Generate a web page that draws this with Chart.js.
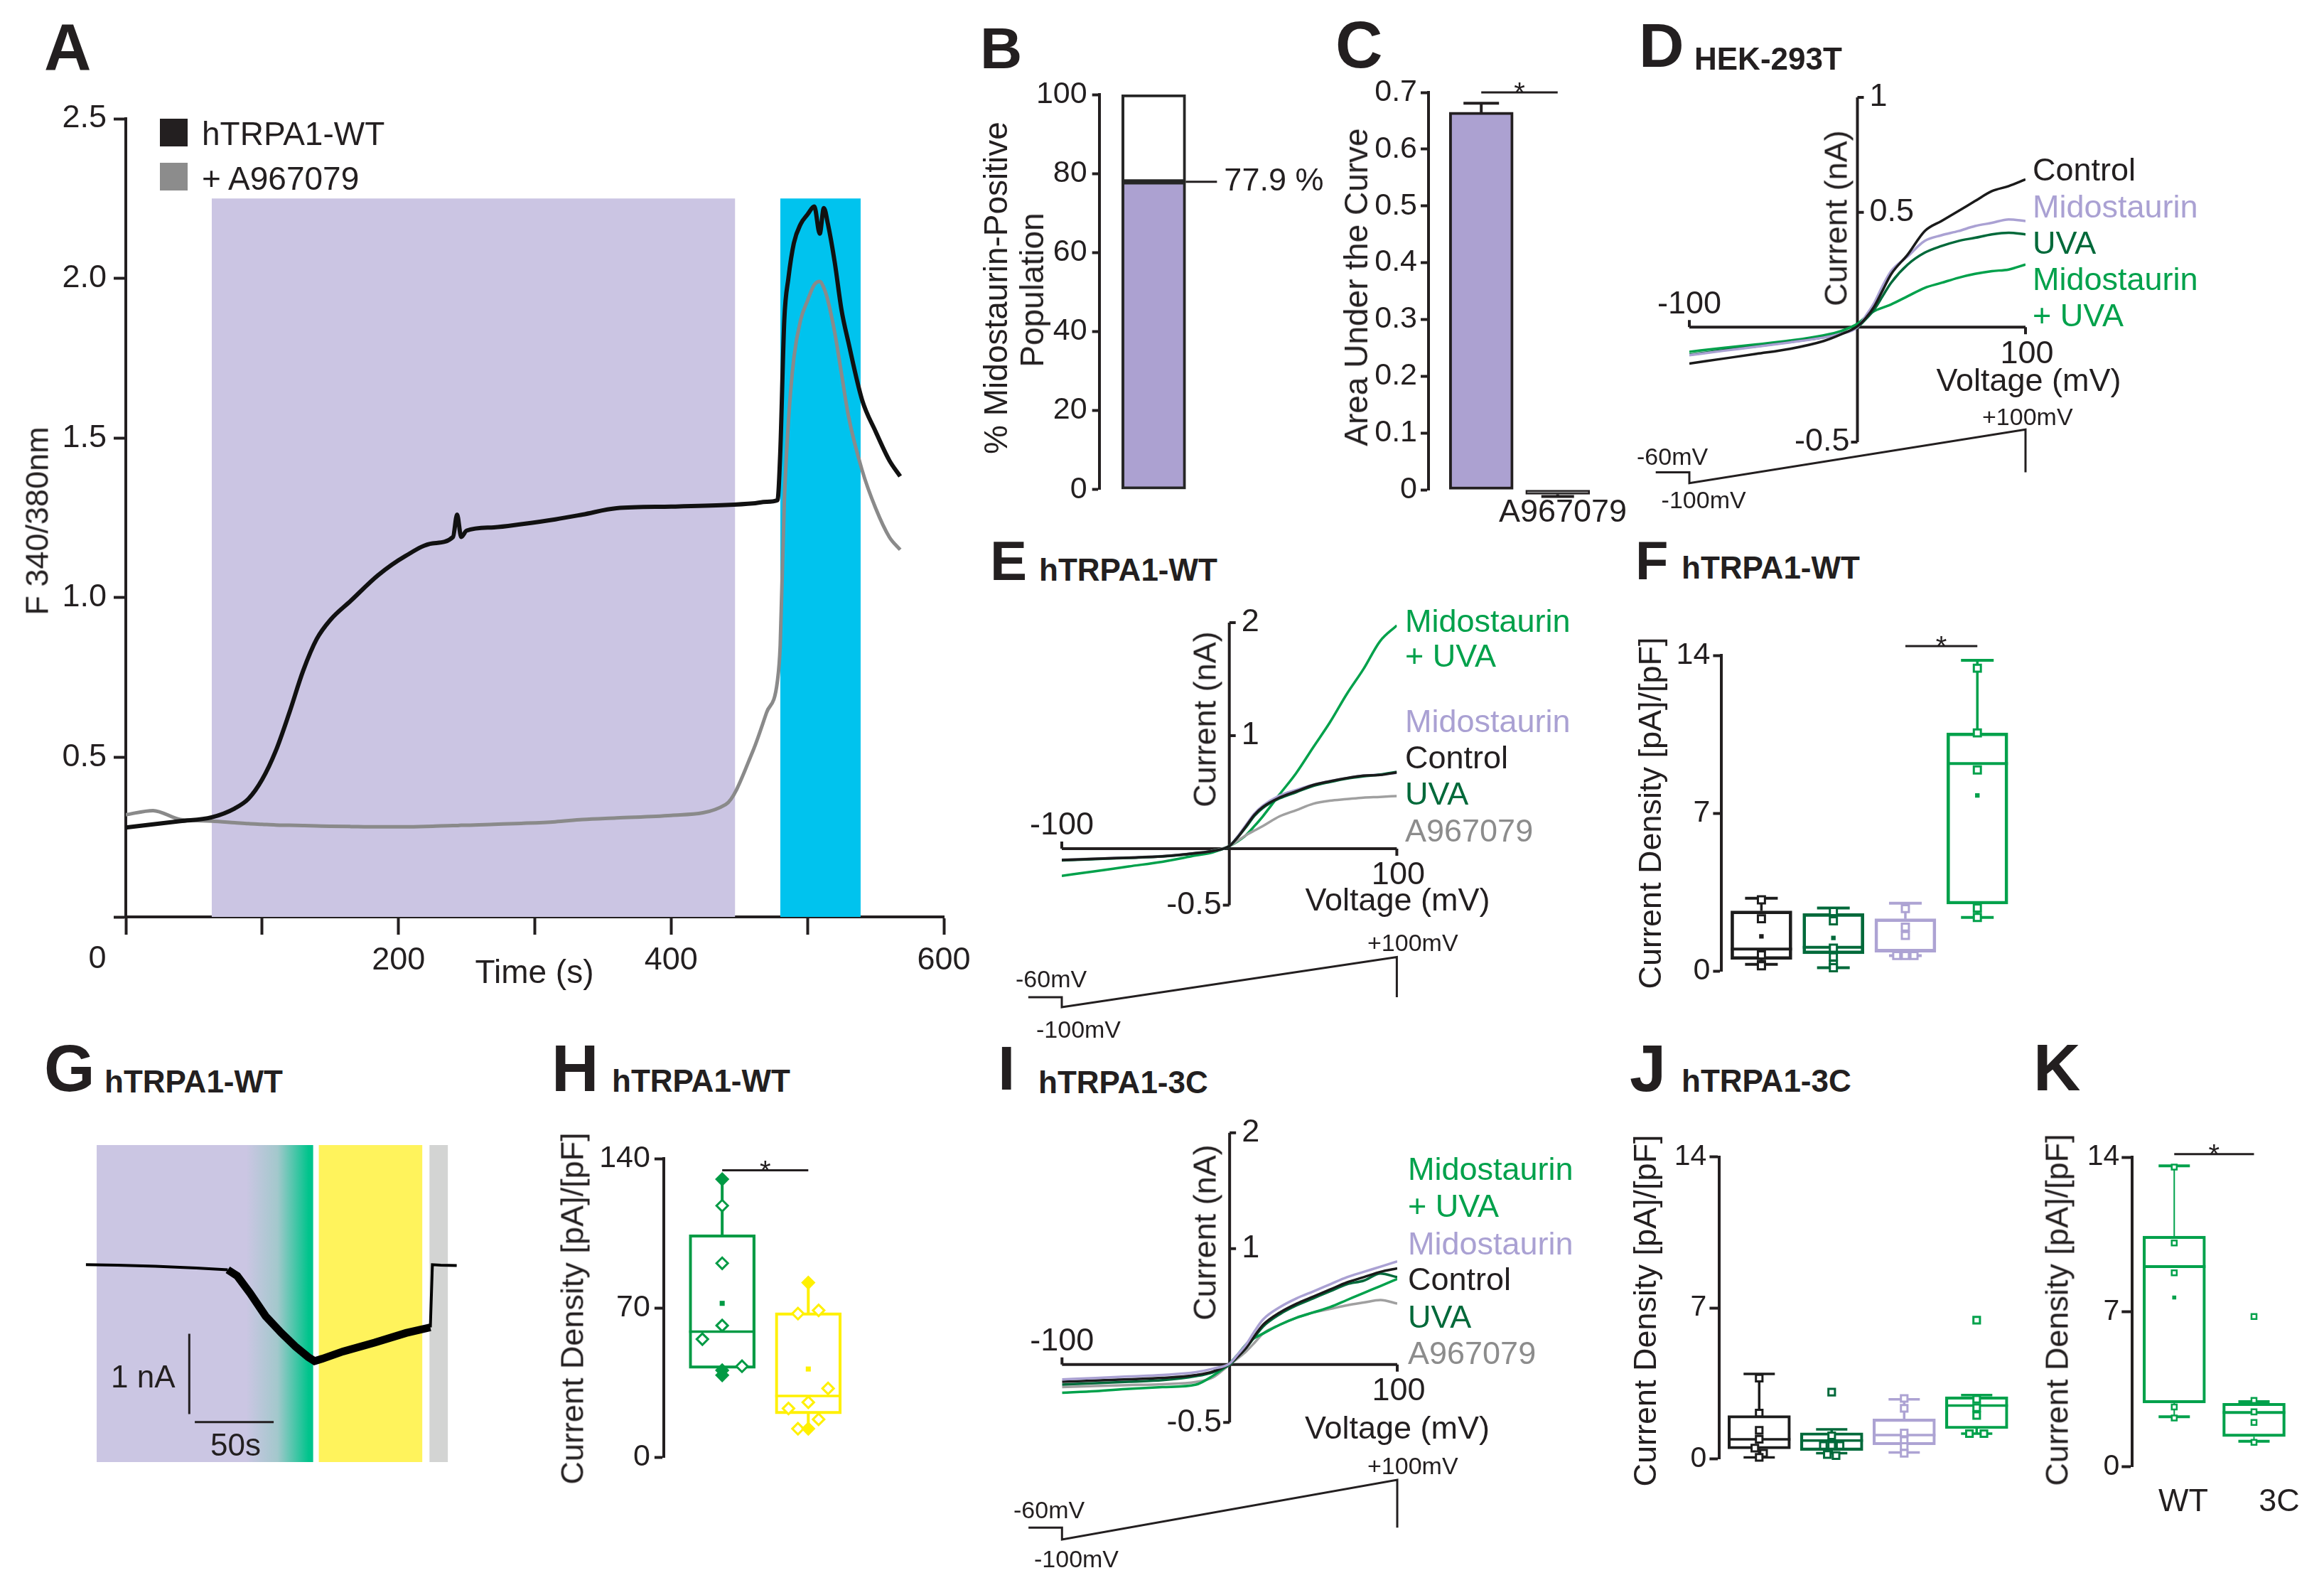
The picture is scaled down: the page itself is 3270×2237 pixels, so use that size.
<!DOCTYPE html>
<html>
<head>
<meta charset="utf-8">
<script src="https://cdn.jsdelivr.net/npm/chart.js@4.4.1/dist/chart.umd.min.js"></script>
<style>
html, body { margin: 0; padding: 0; background: #fff; }
#page { position: relative; width: 3270px; height: 2237px; overflow: hidden; background: #fff;
        font-family: "Liberation Sans", Arial, Helvetica, sans-serif; color: #231f20; }
.cv { position: absolute; }
.t { position: absolute; white-space: nowrap; line-height: 1; }
.sw { position: absolute; }
</style>
</head>
<body>
<div id="page"></div>
<script>
// ---------------- data ----------------
// A: calcium imaging, F340/380 over time
const aTime = [0,20,40,63,80,90,100,110,120,130,140,150,165,185,205,225,240,243,246,250,270,290,315,335,360,400,440,460,470,478,480,483,486,490,495,500,505,509,512,515,520,525,530,540,550,560,568];
const aWT = [0.28,0.29,0.30,0.312,0.34,0.37,0.43,0.52,0.64,0.77,0.87,0.93,0.99,1.07,1.13,1.17,1.19,1.26,1.19,1.21,1.22,1.23,1.245,1.26,1.28,1.285,1.29,1.295,1.3,1.305,1.45,1.87,2.0,2.11,2.17,2.2,2.225,2.14,2.22,2.17,2.05,1.9,1.8,1.62,1.52,1.43,1.38];
const aBlocked = [0.32,0.333,0.305,0.30,0.295,0.292,0.29,0.288,0.287,0.286,0.285,0.284,0.283,0.282,0.282,0.284,0.286,0.286,0.287,0.287,0.29,0.293,0.298,0.305,0.31,0.318,0.352,0.52,0.64,0.74,0.85,1.3,1.55,1.75,1.87,1.93,1.98,1.99,1.97,1.93,1.83,1.7,1.57,1.40,1.28,1.19,1.15];
const aMidoWindow = [63, 447];
const aUvaWindow = [480, 539];
const aShadeTop = 2.25;
const aTickLabels = [200, 400, 600];

// B: % midostaurin-positive
const bPositive = [77.9];
const bNegative = [22.1];

// C: area under the curve
const cGroups = ['Midostaurin', 'A967079'];
const cMean = [0.665, -0.008];
const cSem = [0.016, 0.004];

// I-V ramps (mV -> nA)
const ivVolt = [-100,-80,-60,-40,-20,-10,0,5,10,15,20,30,40,50,60,70,80,90,100];
const dControl = [-0.158,-0.137,-0.116,-0.094,-0.06,-0.032,0.004,0.04,0.09,0.16,0.23,0.317,0.418,0.462,0.505,0.549,0.592,0.614,0.643];
const dMido    = [-0.122,-0.103,-0.085,-0.066,-0.045,-0.029,0.0,0.05,0.106,0.18,0.244,0.309,0.375,0.40,0.418,0.44,0.454,0.469,0.462];
const dUva     = [-0.12,-0.10,-0.083,-0.064,-0.044,-0.028,0.0,0.035,0.077,0.135,0.193,0.273,0.324,0.353,0.375,0.389,0.404,0.411,0.404];
const dMidoUva = [-0.107,-0.09,-0.075,-0.058,-0.035,-0.017,0.015,0.045,0.07,0.085,0.099,0.135,0.171,0.193,0.215,0.232,0.244,0.251,0.273];

const eMidoUva = [-0.24,-0.2,-0.157,-0.116,-0.06,-0.033,0.023,0.065,0.12,0.2,0.286,0.48,0.67,0.895,1.116,1.365,1.587,1.836,1.975];
const eMido    = [-0.101,-0.09,-0.08,-0.068,-0.04,-0.02,0.023,0.11,0.21,0.31,0.38,0.47,0.52,0.565,0.598,0.625,0.646,0.655,0.672];
const eControl = [-0.101,-0.09,-0.08,-0.068,-0.04,-0.02,0.023,0.1,0.2,0.3,0.369,0.452,0.508,0.563,0.596,0.624,0.646,0.652,0.674];
const eUva     = [-0.103,-0.092,-0.081,-0.069,-0.041,-0.021,0.022,0.1,0.19,0.29,0.36,0.445,0.5,0.555,0.59,0.62,0.64,0.655,0.68];
const eBlocked = [-0.098,-0.088,-0.078,-0.066,-0.038,-0.018,0.023,0.07,0.12,0.16,0.2,0.286,0.341,0.397,0.424,0.438,0.452,0.458,0.466];

const iMidoUva = [-0.243,-0.23,-0.21,-0.195,-0.173,-0.097,0.009,0.09,0.177,0.23,0.268,0.344,0.405,0.45,0.496,0.557,0.618,0.678,0.739];
const iMido    = [-0.128,-0.116,-0.103,-0.09,-0.066,-0.036,0.009,0.09,0.177,0.29,0.39,0.496,0.572,0.632,0.693,0.754,0.8,0.845,0.891];
const iControl = [-0.148,-0.138,-0.127,-0.115,-0.09,-0.06,0.01,0.07,0.146,0.25,0.344,0.45,0.526,0.587,0.648,0.709,0.754,0.8,0.83];
const iUva     = [-0.173,-0.16,-0.148,-0.135,-0.1,-0.067,0.0,0.07,0.146,0.24,0.329,0.435,0.511,0.572,0.633,0.693,0.724,0.785,0.754];
const iBlocked = [-0.194,-0.185,-0.177,-0.17,-0.15,-0.112,0.0,0.055,0.116,0.19,0.268,0.344,0.405,0.45,0.48,0.511,0.535,0.557,0.526];

// voltage protocol (mV)
const protoX  = [-120,-100,-100,100,100,120];
const protoMv = [-60,-60,-100,100,-60,-60];

// F: hTRPA1-WT current density (Control, UVA, Midostaurin, Midostaurin+UVA)
const fMin  = [0.30, 0.15, 0.69, 2.38];
const fQ1   = [0.52, 0.77, 0.85, 2.97];
const fMed  = [0.98, 1.06, 0.89, 9.20];
const fQ3   = [2.67, 2.55, 2.32, 10.56];
const fMax  = [3.23, 2.80, 3.01, 13.78];
const fMean = [1.54, 1.47, null, 7.79];
const fPts  = [[3.16, 2.32, 0.72, 0.30, 0.24], [2.64, 2.23, 1.02, 0.63, 0.30, 0.15], [2.77, 1.95, 1.58, 0.69, 0.69, 0.69], [13.43, 10.56, 8.92, 2.80, 2.38]];
const fJit  = [[0, 0, 0, 0, 0], [0, 0, 0, 0, 0, 0], [0, 0, 0, -0.12, 0, 0.12], [0, 0, 0, 0, 0]];

// G: whole-cell trace (s, nA)
const gTime = [0,20,44,70,90,96,104,114,124,133,141,145,150,163,183,203,218.4,219.7,225,235.2];
const gCur  = [0,-0.005,-0.018,-0.04,-0.063,-0.14,-0.35,-0.64,-0.85,-1.02,-1.15,-1.2,-1.17,-1.08,-0.97,-0.85,-0.78,0,-0.005,-0.01];
const gMidoWindow = [6.9, 144.2];
const gFadeWindow = [101.7, 141.3];
const gYellowWindow = [147.6, 213.4];
const gGrayWindow = [217.8, 229.6];
const gNoisyWindow = [90, 218.4];

// H: Midostaurin+UVA vs yellow
const hMin  = [38.4, 13.0];
const hQ1   = [41.6, 20.3];
const hMed  = [58.8, 28.7];
const hQ3   = [104.3, 67.7];
const hMax  = [130.3, 81.8];
const hMean = [72.1, 41.3];
const hPts  = [[130.3, 117.9, 90.9, 61.7, 55.3, 42.6, 40.7, 38.4], [81.8, 68.8, 67.3, 32.2, 25.7, 22.8, 17.7, 13.3, 13.3]];
const hJit  = [[0, 0, 0, 0, -0.23, 0.23, 0, 0], [0, 0.12, -0.12, 0.23, 0, -0.23, 0.12, -0.12, 0]];
const hFull = [[1, 0, 0, 0, 0, 0, 1, 1], [1, 0, 0, 0, 0, 0, 0, 0, 1]];

// J: hTRPA1-3C
const jMin = [0.07, 0.26, 0.30, 1.17];
const jQ1  = [0.46, 0.39, 0.65, 1.40];
const jMed = [0.91, 0.85, 1.10, 2.47];
const jQ3  = [2.01, 1.21, 1.85, 2.88];
const jMax = [3.94, 1.37, 2.76, 2.96];
const jPts = [[3.74, 2.12, 1.32, 0.91, 0.50, 0.26, 0.07], [3.09, 1.07, 0.62, 0.62, 0.62, 0.20, 0.15], [2.80, 2.34, 1.20, 0.85, 0.57, 0.26], [6.43, 2.76, 2.37, 2.01, 1.17, 1.17]];
const jJit = [[0, 0, 0, 0, -0.06, 0.06, 0], [0, 0, -0.115, 0, 0.115, -0.06, 0.06], [0, 0, 0, 0, 0, 0], [0, 0, 0, 0, -0.1, 0.1]];

// K: WT vs 3C
const kLabels = ['WT', '3C'];
const kMin = [2.26, 1.15];
const kQ1  = [2.88, 1.36];
const kMed = [9.05, 2.45];
const kQ3  = [10.43, 2.87];
const kMax = [13.61, 2.94];
const kMean = [7.65, null];
const kPts = [[13.55, 10.12, 8.77, 2.70, 2.20], [6.79, 3.00, 2.48, 2.00, 1.10]];

// ---------------- helpers ----------------
const INK = '#231f20';
const FONT = '"Liberation Sans", Arial, Helvetica, sans-serif';
const LAV = '#aaa1d3', DKG = '#00693a', GRN = '#00a14b', GRY = '#8c8c8c';

Chart.defaults.font.family = FONT;
Chart.defaults.font.size = 43;
Chart.defaults.color = INK;
Chart.defaults.animation = false;
Chart.defaults.maintainAspectRatio = false;
Chart.defaults.plugins.legend.display = false;
Chart.defaults.plugins.tooltip.enabled = false;
Chart.defaults.events = [];

const page = document.getElementById('page');

function txt(s, x, y, size, o = {}) {
  const d = document.createElement('div');
  d.className = 't';
  d.textContent = s;
  d.style.fontSize = size + 'px';
  if (o.bold) d.style.fontWeight = 'bold';
  if (o.color) d.style.color = o.color;
  d.style.left = x + 'px';
  d.style.top = y + 'px';
  const ax = o.rot || o.align === 'c' ? '-50%' : o.align === 'r' ? '-100%' : '0';
  d.style.transform = 'translate(' + ax + ',-50%)' + (o.rot ? ' rotate(-90deg)' : '');
  page.appendChild(d);
}

function swatch(x, y, w, h, color) {
  const d = document.createElement('div');
  d.className = 'sw';
  d.style.cssText = `left:${x}px;top:${y}px;width:${w}px;height:${h}px;background:${color};`;
  page.appendChild(d);
}

function chart(box, area, yW, xH, cfg) {
  const [bx, by, bw, bh] = box;
  const [l, t, r, b] = area;
  const holder = document.createElement('div');
  holder.className = 'cv';
  holder.style.cssText = `left:${bx}px;top:${by}px;width:${bw}px;height:${bh}px;`;
  const cv = document.createElement('canvas');
  holder.appendChild(cv);
  page.appendChild(holder);
  cfg.options = cfg.options || {};
  cfg.options.layout = {padding: {left: l - bx - yW, top: t - by, right: bx + bw - r, bottom: by + bh - b - xH}};
  return new Chart(cv, cfg);
}

function yAxis(min, max, step, yW, tickLen, pad, size, fmt) {
  return {
    min, max, afterFit: s => { s.width = yW; },
    ticks: {stepSize: step, padding: pad, autoSkip: false, font: {size}, callback: fmt || (v => String(v))},
    grid: {drawOnChartArea: false, drawTicks: true, tickLength: tickLen, tickWidth: 4, color: INK},
    border: {display: true, width: 4, color: INK}
  };
}

// hidden x axis for box plots and bars (offset off so values map straight to pixels)
function xHidden(min, max) {
  return {type: 'linear', min, max, offset: false, display: false, grid: {offset: false}};
}

function pts(xs, ys) { return xs.map((x, i) => ({x, y: ys[i]})); }

function sigBars(bars) {
  return {
    id: 'sig',
    afterDatasetsDraw(ch) {
      const {ctx} = ch, xs = ch.scales.x, ys = ch.scales.y;
      ctx.save();
      ctx.strokeStyle = INK; ctx.fillStyle = INK; ctx.lineWidth = 3;
      ctx.font = '40px ' + FONT; ctx.textAlign = 'center'; ctx.textBaseline = 'alphabetic';
      for (const s of bars) {
        const x1 = xs.getPixelForValue(s.from), x2 = xs.getPixelForValue(s.to), yy = ys.getPixelForValue(s.at);
        ctx.beginPath(); ctx.moveTo(x1, yy); ctx.lineTo(x2, yy); ctx.stroke();
        ctx.fillText('*', (x1 + x2) / 2, yy + 14);
      }
      ctx.restore();
    }
  };
}

// centred axes for the I-V plots
function ivAxes(yTicks) {
  return {
    id: 'ivAxes',
    beforeDatasetsDraw(ch) {
      const {ctx, scales: {x, y}} = ch;
      const x0 = x.getPixelForValue(0), y0 = y.getPixelForValue(0);
      const xl = x.getPixelForValue(x.min), xr = x.getPixelForValue(x.max);
      const yt = y.getPixelForValue(y.max), yb = y.getPixelForValue(y.min);
      ctx.save();
      ctx.strokeStyle = INK; ctx.lineWidth = 4; ctx.lineCap = 'butt';
      ctx.beginPath();
      ctx.moveTo(xl, y0); ctx.lineTo(xr, y0);
      ctx.moveTo(x0, yt); ctx.lineTo(x0, yb);
      ctx.moveTo(xl, y0); ctx.lineTo(xl, y0 - 10);
      ctx.moveTo(xr, y0); ctx.lineTo(xr, y0 + 10);
      for (const v of yTicks) {
        const py = y.getPixelForValue(v);
        ctx.moveTo(x0, py); ctx.lineTo(v > 0 ? x0 + 9 : x0 - 9, py);
      }
      ctx.stroke();
      ctx.fillStyle = INK; ctx.font = '45px ' + FONT; ctx.textBaseline = 'middle';
      ctx.textAlign = 'center';
      ctx.fillText(String(x.min), xl, y0 - 32);
      ctx.fillText(String(x.max), xr + 2, y0 + 38);
      for (const v of yTicks) {
        const py = y.getPixelForValue(v);
        if (v > 0) { ctx.textAlign = 'left'; ctx.fillText(String(v), x0 + 17, py); }
        else { ctx.textAlign = 'right'; ctx.fillText(String(v), x0 - 11, py); }
      }
      ctx.restore();
    }
  };
}

function ivChart(box, area, yRange, ypRange, yTicks, curves) {
  const sets = curves.map((c, k) => ({
    type: 'line', data: pts(ivVolt, c.y), borderColor: c.color, borderWidth: 3.5,
    pointRadius: 0, cubicInterpolationMode: 'monotone', order: k + 1
  }));
  sets.push({type: 'line', yAxisID: 'yp', data: pts(protoX, protoMv), borderColor: INK, borderWidth: 3,
    pointRadius: 0, clip: false, order: 20});
  return chart(box, area, 0, 0, {
    type: 'scatter',
    data: {datasets: sets},
    options: {scales: {
      x: {type: 'linear', min: -100, max: 100, display: false},
      y: {type: 'linear', min: yRange[0], max: yRange[1], display: false},
      yp: {type: 'linear', min: ypRange[0], max: ypRange[1], display: false}
    }},
    plugins: [ivAxes(yTicks)]
  });
}

function boxSets(b) {
  const sets = [];
  sets.push({type: 'bar', data: b.q1.map((q, i) => ({x: i + 1, y: [q, b.q3[i]]})),
    backgroundColor: 'rgba(0,0,0,0)', borderColor: b.colors, borderWidth: b.lw,
    borderSkipped: false, barThickness: b.boxW, order: 6});
  b.colors.forEach((col, i) => {
    const x = i + 1;
    sets.push({type: 'line', data: [{x, y: b.min[i]}, {x, y: b.q1[i]}, {x, y: null}, {x, y: b.q3[i]}, {x, y: b.max[i]}],
      borderColor: col, borderWidth: b.wlw, pointRadius: 0, spanGaps: false, order: 5});
    const marks = [{x, y: b.med[i]}], radii = [b.boxW / 2];
    if (b.capR) { marks.push({x, y: b.min[i]}, {x, y: b.max[i]}); radii.push(b.capR, b.capR); }
    sets.push({type: 'scatter', data: marks, pointStyle: 'line', pointRadius: radii,
      pointBorderColor: col, pointBorderWidth: b.clw || b.lw, order: 4});
    const jit = b.jit ? b.jit[i] : null, full = b.full ? b.full[i] : null;
    sets.push({type: 'scatter', data: b.pts[i].map((v, k) => ({x: x + (jit ? jit[k] : 0), y: v})),
      pointStyle: b.shape, pointRadius: b.ptR, pointBorderWidth: b.ptLw, pointBorderColor: col,
      pointBackgroundColor: b.pts[i].map((v, k) => (full && full[k]) ? col : '#ffffff'), clip: false, order: 2});
    if (b.mean && b.mean[i] != null) {
      sets.push({type: 'scatter', data: [{x, y: b.mean[i]}], pointStyle: 'rect', pointRadius: b.meanR,
        pointBorderWidth: 0, pointBackgroundColor: col, order: 1});
    }
  });
  return sets;
}

// ---------------- panel A ----------------
chart([0, 100, 1400, 1320], [177, 167, 1328, 1290], 157, 100, {
  type: 'scatter',
  data: {datasets: [
    {type: 'line', data: pts(aTime, aWT), borderColor: '#111111', borderWidth: 6, pointRadius: 0,
      cubicInterpolationMode: 'monotone', order: 1},
    {type: 'line', data: pts(aTime, aBlocked), borderColor: '#8a8a8a', borderWidth: 5, pointRadius: 0,
      cubicInterpolationMode: 'monotone', order: 2},
    {type: 'line', data: aMidoWindow.map(t => ({x: t, y: aShadeTop})), fill: 'origin', backgroundColor: '#cbc5e3',
      borderWidth: 0, pointRadius: 0, order: 10},
    {type: 'line', data: aUvaWindow.map(t => ({x: t, y: aShadeTop})), fill: 'origin', backgroundColor: '#00c3ee',
      borderWidth: 0, pointRadius: 0, order: 11}
  ]},
  options: {scales: {
    x: {type: 'linear', min: 0, max: 600, afterFit: s => { s.height = 100; },
      ticks: {stepSize: 100, padding: 10, autoSkip: false, maxRotation: 0, font: {size: 45},
        callback: v => aTickLabels.includes(v) ? String(v) : ''},
      grid: {drawOnChartArea: false, tickLength: 25, tickWidth: 4, color: INK},
      border: {display: true, width: 4, color: INK}},
    y: yAxis(0, 2.5, 0.5, 157, 17, 10, 45, v => v === 0 ? '' : v.toFixed(1))
  }}
});
swatch(225, 167, 39, 39, '#231f20');
swatch(225, 229, 39, 39, '#8c8c8c');
txt('hTRPA1-WT', 284, 188, 46);
txt('+ A967079', 284, 251, 46);
txt('0', 137, 1346, 45, {align: 'c'});
txt('Time (s)', 752, 1367, 46, {align: 'c'});
txt('F 340/380nm', 52, 733, 45, {rot: true});

// ---------------- panel B ----------------
const bLabelPlugin = {
  id: 'bLabel',
  afterDatasetsDraw(ch) {
    const {ctx} = ch;
    const bar = ch.getDatasetMeta(0).data[0];
    const yy = ch.scales.y.getPixelForValue(bPositive[0]);
    const xr = bar.x + bar.width / 2;
    ctx.save();
    ctx.strokeStyle = INK; ctx.lineWidth = 3;
    ctx.beginPath(); ctx.moveTo(xr, yy); ctx.lineTo(xr + 44, yy); ctx.stroke();
    ctx.fillStyle = INK; ctx.font = '45px ' + FONT; ctx.textAlign = 'left'; ctx.textBaseline = 'middle';
    ctx.fillText(bPositive[0].toFixed(1) + ' %', xr + 54, yy);
    ctx.restore();
  }
};
chart([1360, 90, 520, 640], [1546.7, 133, 1700, 688.7], 120, 0, {
  type: 'bar',
  data: {labels: [''], datasets: [
    {data: bPositive, backgroundColor: '#aca1d1', borderColor: '#262626', borderWidth: 4, borderSkipped: false, barThickness: 90},
    {data: bNegative, backgroundColor: '#ffffff', borderColor: '#262626', borderWidth: 4, borderSkipped: false, barThickness: 90}
  ]},
  options: {scales: {
    x: {display: false, stacked: true},
    y: Object.assign(yAxis(0, 100, 20, 120, 10, 7, 43), {stacked: true})
  }},
  plugins: [bLabelPlugin]
});
txt('% Midostaurin-Positive', 1400.7, 405, 46, {rot: true});
txt('Population', 1452.3, 407.6, 46, {rot: true});

// ---------------- panel C ----------------
const cErrLine = [];
const cCaps = [];
cMean.forEach((m, i) => {
  const tip = m + Math.sign(m) * cSem[i];
  cErrLine.push({x: i, y: m}, {x: i, y: tip}, {x: i + 0.5, y: null});
  cCaps.push({x: i, y: tip});
});
chart([1880, 90, 440, 660], [2010, 130, 2300, 689], 100, 0, {
  type: 'scatter',
  data: {datasets: [
    {type: 'bar', data: cMean.map((v, i) => ({x: i, y: v})), backgroundColor: ['#aca1d1', '#9d9d9d'],
      borderColor: INK, borderWidth: [4, 2.5], borderSkipped: false, barThickness: 90, clip: false, order: 3},
    {type: 'line', data: cErrLine, borderColor: INK, borderWidth: 4, pointRadius: 0, spanGaps: false, clip: false, order: 2},
    {type: 'scatter', data: cCaps, pointStyle: 'line', pointRadius: [25, 23], pointBorderColor: INK, pointBorderWidth: 4, clip: false, order: 1}
  ]},
  options: {scales: {
    x: xHidden(-0.69, 1.923),
    y: yAxis(0, 0.7, 0.1, 100, 11, 5, 43, v => v === 0 ? '0' : v.toFixed(1))
  }},
  plugins: [sigBars([{from: 0, to: 1, at: 0.7}])]
});
txt('Area Under the Curve', 1908, 404, 46, {rot: true});
txt(cGroups[1], 2199, 718, 45, {align: 'c'});

// ---------------- panel D ----------------
ivChart([2290, 100, 980, 640], [2377, 137, 2850, 622], [-0.5, 1], [53, 1339.5], [1, 0.5, -0.5], [
  {y: dControl, color: '#1a1a1a'},
  {y: dMido, color: LAV},
  {y: dUva, color: DKG},
  {y: dMidoUva, color: GRN}
]);
txt('Current (nA)', 2583, 307, 45, {rot: true});
txt('Voltage (mV)', 2854.5, 534, 45, {align: 'c'});
txt('Control', 2860, 238, 45);
txt('Midostaurin', 2860, 290, 45, {color: LAV});
txt('UVA', 2860, 341, 45, {color: DKG});
txt('Midostaurin', 2860, 392, 45, {color: GRN});
txt('+ UVA', 2860, 443, 45, {color: GRN});
txt('-60mV', 2303, 641.5, 34);
txt('-100mV', 2337.6, 703, 34);
txt('+100mV', 2789, 585.6, 34);

// ---------------- panel E ----------------
ivChart([1380, 840, 900, 640], [1494, 876, 1965.4, 1273.5], [-0.5, 2], [307.7, 1437], [2, 1, -0.5], [
  {y: eControl, color: '#1a1a1a'},
  {y: eUva, color: DKG},
  {y: eMido, color: LAV},
  {y: eBlocked, color: '#a0a0a0'},
  {y: eMidoUva, color: GRN}
]);
txt('Current (nA)', 1695, 1012, 45, {rot: true});
txt('Voltage (mV)', 1966.5, 1265, 45, {align: 'c'});
txt('Midostaurin', 1977, 873.4, 45, {color: GRN});
txt('+ UVA', 1977, 921.9, 45, {color: GRN});
txt('Midostaurin', 1977, 1014.3, 45, {color: LAV});
txt('Control', 1977, 1064.9, 45);
txt('UVA', 1977, 1115.5, 45, {color: DKG});
txt('A967079', 1977, 1168.3, 45, {color: GRY});
txt('-60mV', 1429, 1377, 34);
txt('-100mV', 1458, 1447.8, 34);
txt('+100mV', 1924, 1325.5, 34);

// ---------------- panel F ----------------
const groupColors = ['#1c1c1c', DKG, '#ada3d3', GRN];
chart([2280, 860, 610, 560], [2422.4, 922, 2862, 1366.3], 100, 0, {
  type: 'scatter',
  data: {datasets: boxSets({q1: fQ1, q3: fQ3, med: fMed, min: fMin, max: fMax, mean: fMean, pts: fPts, jit: fJit,
    colors: groupColors, boxW: 86, lw: 4, wlw: 3.5, capR: 23, shape: 'rect', ptR: 7, ptLw: 3, meanR: 4.5})},
  options: {scales: {
    x: xHidden(0.447, 4.6),
    y: yAxis(0, 14, 7, 100, 12, 4, 43)
  }},
  plugins: [sigBars([{from: 3, to: 4, at: 14.41}])]
});
txt('Current Density [pA]/[pF]', 2320.7, 1144, 45, {rot: true});

// ---------------- panel G ----------------
const gScaleAnchor = [65.6, -0.86];
const gScaleSec = 50, gScaleNa = 1;
const gScalePlugin = {
  id: 'gScale',
  afterDatasetsDraw(ch) {
    const {ctx, scales: {x, y}} = ch;
    const xv = x.getPixelForValue(gScaleAnchor[0]);
    const y1 = y.getPixelForValue(gScaleAnchor[1]), y2 = y.getPixelForValue(gScaleAnchor[1] - gScaleNa);
    const xh1 = x.getPixelForValue(gScaleAnchor[0] + 3.5), xh2 = x.getPixelForValue(gScaleAnchor[0] + 3.5 + gScaleSec);
    const yh = y.getPixelForValue(gScaleAnchor[1] - gScaleNa - 0.1);
    ctx.save();
    ctx.strokeStyle = INK; ctx.lineWidth = 3;
    ctx.beginPath(); ctx.moveTo(xv, y1); ctx.lineTo(xv, y2); ctx.moveTo(xh1, yh); ctx.lineTo(xh2, yh); ctx.stroke();
    ctx.restore();
  }
};
const gFade = c => {
  const ch = c.chart;
  if (!ch.chartArea) return '#cbc6e3';
  const xs = ch.scales.x;
  const g = ch.ctx.createLinearGradient(xs.getPixelForValue(gFadeWindow[0]), 0, xs.getPixelForValue(gFadeWindow[1]), 0);
  g.addColorStop(0, '#cbc6e3');
  g.addColorStop(0.5, '#a3c8cc');
  g.addColorStop(1, '#00c48c');
  return g;
};
const gTop = 1.49;
chart([100, 1590, 580, 500], [120.7, 1611, 642.8, 2057], 0, 0, {
  type: 'scatter',
  data: {datasets: [
    {type: 'line', data: pts(gTime, gCur), borderColor: '#000000', borderWidth: 4, pointRadius: 0, order: 1,
      segment: {borderWidth: s => {
        const t = gTime[s.p0DataIndex];
        return (t >= gNoisyWindow[0] && t < gNoisyWindow[1]) ? 11 : 4;
      }}},
    {type: 'line', data: gMidoWindow.map(t => ({x: t, y: gTop})), fill: 'start', backgroundColor: gFade, borderWidth: 0, pointRadius: 0, order: 10},
    {type: 'line', data: gYellowWindow.map(t => ({x: t, y: gTop})), fill: 'start', backgroundColor: '#fff35c', borderWidth: 0, pointRadius: 0, order: 11},
    {type: 'line', data: gGrayWindow.map(t => ({x: t, y: gTop})), fill: 'start', backgroundColor: '#d3d4d3', borderWidth: 0, pointRadius: 0, order: 12}
  ]},
  options: {scales: {
    x: {type: 'linear', min: 0, max: 235.2, display: false},
    y: {type: 'linear', min: -2.457, max: gTop, display: false}
  }},
  plugins: [gScalePlugin]
});
txt('1 nA', 156, 1937, 44);
txt('50s', 296, 2033, 44);

// ---------------- panel H ----------------
chart([800, 1580, 460, 520], [933.9, 1617, 1227.9, 2062.5], 110, 0, {
  type: 'scatter',
  data: {datasets: boxSets({q1: hQ1, q3: hQ3, med: hMed, min: hMin, max: hMax, mean: hMean, pts: hPts, jit: hJit, full: hFull,
    colors: ['#009a44', '#fff000'], boxW: 93, lw: 3.5, wlw: 4, capR: 0, shape: 'rectRot', ptR: 8, ptLw: 3, meanR: 5})},
  options: {scales: {
    x: xHidden(0.321, 2.6),
    y: yAxis(0, 140, 70, 110, 13, 6, 43)
  }},
  plugins: [sigBars([{from: 1, to: 2, at: 134.5}])]
});
txt('Current Density [pA]/[pF]', 805.3, 1841, 45, {rot: true});

// ---------------- panel I ----------------
ivChart([1380, 1560, 900, 677], [1494.3, 1593.8, 1966, 2001.3], [-0.5, 2], [292.1, 1262.3], [2, 1, -0.5], [
  {y: iMido, color: LAV},
  {y: iControl, color: '#1a1a1a'},
  {y: iUva, color: DKG},
  {y: iMidoUva, color: GRN},
  {y: iBlocked, color: '#a0a0a0'}
]);
txt('Current (nA)', 1695, 1733.7, 45, {rot: true});
txt('Voltage (mV)', 1966, 2007.6, 45, {align: 'c'});
txt('Midostaurin', 1981, 1644.3, 45, {color: GRN});
txt('+ UVA', 1981, 1696.4, 45, {color: GRN});
txt('Midostaurin', 1981, 1748.9, 45, {color: LAV});
txt('Control', 1981, 1799.4, 45);
txt('UVA', 1981, 1851.5, 45, {color: DKG});
txt('A967079', 1981, 1902.5, 45, {color: GRY});
txt('-60mV', 1426, 2124, 34);
txt('-100mV', 1455, 2193.4, 34);
txt('+100mV', 1924, 2062, 34);

// ---------------- panel J ----------------
chart([2280, 1580, 610, 520], [2419.4, 1618.3, 2861.2, 2063.3], 100, 0, {
  type: 'scatter',
  data: {datasets: boxSets({q1: jQ1, q3: jQ3, med: jMed, min: jMin, max: jMax, pts: jPts, jit: jJit,
    colors: groupColors, boxW: 88, lw: 3.5, wlw: 3.5, capR: 22, shape: 'rect', ptR: 6.5, ptLw: 3})},
  options: {scales: {
    x: xHidden(0.452, 4.6),
    y: yAxis(0, 14, 7, 100, 14, 4, 41)
  }}
});
txt('Current Density [pA]/[pF]', 2314, 1844, 45, {rot: true});

// ---------------- panel K ----------------
chart([2900, 1580, 370, 540], [3000.3, 1618.6, 3267.9, 2063.5], 90, 0, {
  type: 'scatter',
  data: {datasets: boxSets({q1: kQ1, q3: kQ3, med: kMed, min: kMin, max: kMax, mean: kMean, pts: kPts,
    colors: [GRN, GRN], boxW: 88, lw: 3.5, wlw: 2, clw: 4, capR: 22, shape: 'rect', ptR: 5, ptLw: 2.5, meanR: 4})},
  options: {scales: {
    x: xHidden(0.4745, 2.45),
    y: yAxis(0, 14, 7, 90, 15, 3, 41)
  }},
  plugins: [sigBars([{from: 1, to: 2, at: 14.14}])]
});
txt('Current Density [pA]/[pF]', 2893.7, 1843, 45, {rot: true});
txt(kLabels[0], 3072, 2110, 45, {align: 'c'});
txt(kLabels[1], 3207, 2110, 45, {align: 'c'});

// ---------------- panel letters and titles ----------------
[['A', 62, 66, 92], ['B', 1379, 67.5, 82], ['C', 1879, 62.5, 92], ['D', 2306, 64, 88], ['E', 1393, 789, 78],
 ['F', 2301, 789, 76], ['G', 62, 1503, 92], ['H', 776, 1503, 92], ['I', 1404, 1503, 88], ['J', 2293, 1503, 92],
 ['K', 2861, 1502, 92]].forEach(([s, x, y, size]) => txt(s, x, y, size, {bold: true}));

[['HEK-293T', 2384, 82.6], ['hTRPA1-WT', 1462, 802], ['hTRPA1-WT', 2366, 798.5], ['hTRPA1-WT', 147, 1522],
 ['hTRPA1-WT', 861, 1520.5], ['hTRPA1-3C', 1461, 1523], ['hTRPA1-3C', 2366, 1520.5]]
  .forEach(([s, x, y]) => txt(s, x, y, 44, {bold: true}));
</script>
</body>
</html>
